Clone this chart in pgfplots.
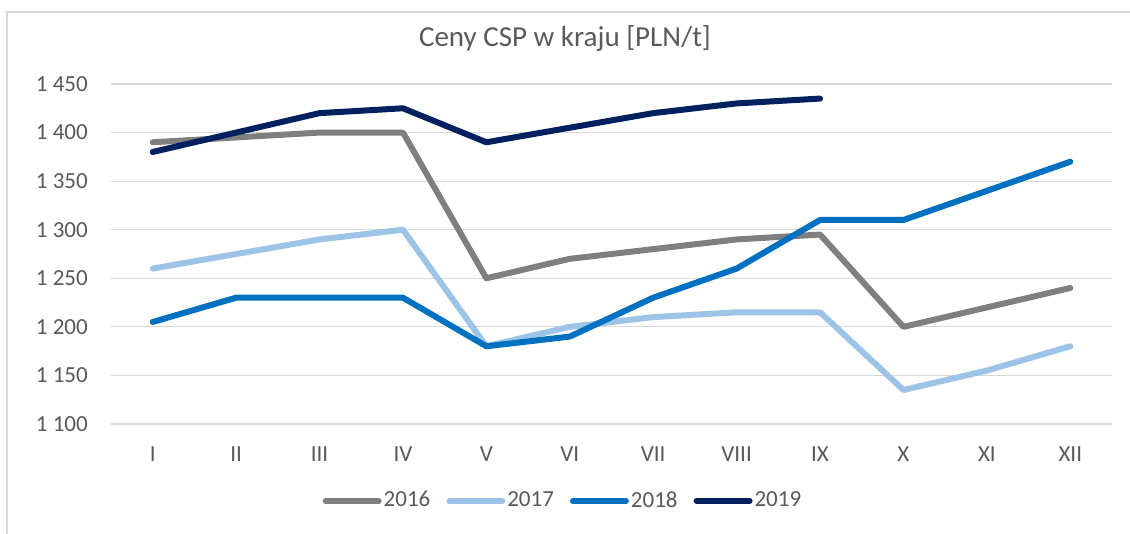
\documentclass[border=0pt]{standalone}
\usepackage{fontspec}
\setmainfont{Carlito}
\usepackage{pgfplots}
\pgfplotsset{compat=1.18}
\definecolor{cA}{HTML}{7F7F7F}
\definecolor{cB}{HTML}{9DC3E6}
\definecolor{cC}{HTML}{0070C0}
\definecolor{cD}{HTML}{002060}
\definecolor{textgray}{HTML}{595959}
\definecolor{gridgray}{HTML}{D9D9D9}
\begin{document}
\begin{tikzpicture}[x=1pt,y=1pt]
\useasboundingbox (0,0) rectangle (1130,534);
\draw[gridgray, line width=1.5pt] (7,0) -- (7,522) -- (1130,522);
\begin{axis}[
  at={(111pt,110pt)}, anchor=south west,
  scale only axis, width=1001pt, height=340pt,
  xmin=0.5, xmax=12.5, ymin=1100, ymax=1450,
  axis line style={draw=none},
  tick style={draw=none},
  ymajorgrids, major grid style={draw=gridgray, line width=1.2pt},
  xtick={1,...,12},
  xticklabels={I,II,III,IV,V,VI,VII,VIII,IX,X,XI,XII},
  ytick={1100,1150,1200,1250,1300,1350,1400,1450},
  yticklabels={1 100,1 150,1 200,1 250,1 300,1 350,1 400,1 450},
  tick label style={font=\fontsize{23}{27}\selectfont, text=textgray, inner sep=0pt},
  yticklabel style={anchor=east, xshift=-23pt},
  xticklabel style={anchor=center, yshift=-30pt},
  title={Ceny CSP w kraju [PLN/t]},
  title style={font=\fontsize{29}{33}\selectfont, text=textgray, anchor=center, at={(0.4535,1)}, yshift=39pt, inner sep=0pt},
  legend style={at={(0.4515,-0.2235)}, anchor=center, draw=none, fill=none,
    font=\fontsize{23}{27}\selectfont, text=textgray,
    nodes={inner xsep=2pt, inner ysep=1pt},
    /tikz/every even column/.append style={column sep=14pt}},
  legend columns=4,
  legend image code/.code={\draw[#1] (0pt,-1pt) -- (53pt,-1pt);},
  every axis plot/.append style={line width=6pt, line join=round, line cap=round},
]
\addplot[cA] coordinates {(1,1390) (2,1395) (3,1400) (4,1400) (5,1250) (6,1270) (7,1280) (8,1290) (9,1295) (10,1200) (11,1220) (12,1240)};
\addlegendentry{2016}
\addplot[cB] coordinates {(1,1260) (2,1275) (3,1290) (4,1300) (5,1180) (6,1200) (7,1210) (8,1215) (9,1215) (10,1135) (11,1155) (12,1180)};
\addlegendentry{2017}
\addplot[cC] coordinates {(1,1205) (2,1230) (3,1230) (4,1230) (5,1180) (6,1190) (7,1230) (8,1260) (9,1310) (10,1310) (11,1340) (12,1370)};
\addlegendentry{2018}
\addplot[cD] coordinates {(1,1380) (2,1400) (3,1420) (4,1425) (5,1390) (6,1405) (7,1420) (8,1430) (9,1435)};
\addlegendentry{2019}
\end{axis}
\end{tikzpicture}
\end{document}
